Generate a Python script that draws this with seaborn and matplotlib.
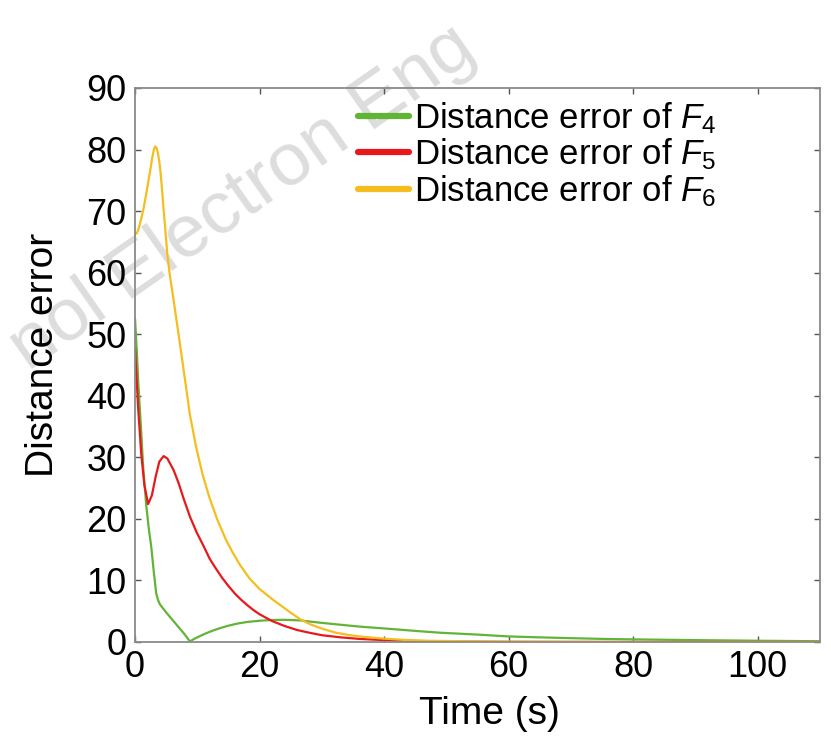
import matplotlib
matplotlib.use("Agg")
import matplotlib.pyplot as plt
import seaborn as sns
import pandas as pd

# ---- data ----
t_f4 = [0, 0.3, 0.5, 1.0, 1.3, 1.8, 2.2, 2.6, 3.0, 3.4, 3.7, 4.0, 5.0, 6.0, 7.0, 8.0, 8.8,
        9.5, 10.5, 11.5, 12.5, 13.5, 15, 16.5, 18, 20, 22, 24, 26.5, 30, 33, 36, 40, 45, 49,
        55, 60, 65, 70, 75, 80, 85, 90, 95, 100, 105, 110]
e_f4 = [52.5, 47, 42.5, 34, 28.5, 22.2, 18.5, 15.5, 11.5, 7.9, 6.8, 6.1, 4.8, 3.6, 2.4, 1.2, 0.1,
        0.5, 1.0, 1.45, 1.85, 2.2, 2.65, 3.0, 3.25, 3.45, 3.57, 3.6, 3.5, 3.1, 2.8, 2.5, 2.2, 1.8, 1.5,
        1.2, 0.9, 0.75, 0.62, 0.5, 0.42, 0.36, 0.3, 0.25, 0.2, 0.16, 0.12]

t_f5 = [0, 0.5, 1.0, 1.5, 2.1, 2.7, 3.3, 3.9, 4.6, 5.2, 6.2, 7.0, 7.8, 8.8, 9.9, 11, 12, 13,
        14, 15, 16, 17, 18, 19, 20, 22, 24, 26, 28, 30, 33, 36, 40, 45, 50, 60, 80, 110]
e_f5 = [47.7, 38, 30.5, 25.5, 22.4, 23.8, 26.8, 29.3, 30.2, 29.8, 27.9, 25.8, 23.3, 20.4, 17.8, 15.6, 13.5, 11.9,
        10.4, 9.1, 7.9, 6.9, 6.0, 5.2, 4.5, 3.4, 2.6, 1.95, 1.5, 1.1, 0.75, 0.5, 0.3, 0.15, 0.08, 0.02, 0.0, 0.0]

t_f6 = [0, 0.3, 0.6, 1.0, 1.35, 1.8, 2.2, 2.5, 2.8, 3.0, 3.2, 3.45, 3.7, 3.9, 4.1, 4.35, 4.6, 4.9,
        5.2, 5.6, 6.2, 7.3, 7.9, 8.8, 9.8, 10.8, 11.9, 13.2, 14.6, 15.7, 16.8, 18.4, 20, 22.1, 24.8,
        26.5, 28.3, 30.2, 32.3, 34.5, 37, 39.9, 43, 47, 55, 70, 110]
e_f6 = [66.3, 66.4, 67.2, 68.8, 70.3, 72.8, 75.2, 77, 78.9, 79.9, 80.5, 80.3, 79.3, 78, 76.3, 73.3, 70.1, 66.5,
        62.8, 59.5, 55.5, 47.8, 43.5, 37.0, 31.7, 27.4, 23.6, 19.9, 16.6, 14.5, 12.6, 10.3, 8.6, 6.9, 4.9,
        3.7, 2.8, 2.1, 1.5, 1.1, 0.8, 0.55, 0.35, 0.2, 0.08, 0.02, 0.0]

labels = [r"Distance error of $F_4$", r"Distance error of $F_5$", r"Distance error of $F_6$"]
colors = ["#62b436", "#e8191c", "#f5be1e"]
x_ticks = [0, 20, 40, 60, 80, 100]
y_ticks = [0, 10, 20, 30, 40, 50, 60, 70, 80, 90]

# ---- style ----
sns.set_theme(style="white")
plt.rcParams["font.family"] = ["Liberation Sans", "DejaVu Sans"]
plt.rcParams["mathtext.fontset"] = "custom"
plt.rcParams["mathtext.rm"] = "Liberation Sans"
plt.rcParams["mathtext.it"] = "Liberation Sans:italic"

fig = plt.figure(figsize=(8.31, 7.47), dpi=100)
fig.patch.set_facecolor("white")

# watermark (behind everything)
fig.text(468 / 831, 1 - 40 / 747, "nol Electron Eng",
         fontsize=54, color="#dddddd", rotation=35, rotation_mode="anchor",
         ha="right", va="center", zorder=-10)

ax = fig.add_axes([0.1625, 0.1406, 0.8243, 0.7416])
ax.set_facecolor("none")

series = [(t_f4, e_f4), (t_f5, e_f5), (t_f6, e_f6)]
for (tt, ee), lab, col in zip(series, labels, colors):
    df = pd.DataFrame({"t": tt, "e": ee})
    sns.lineplot(data=df, x="t", y="e", ax=ax, color=col, linewidth=1.6, label=lab)

ax.set_xlim(0, 110)
ax.set_ylim(0, 90)
ax.set_xticks(x_ticks)
ax.set_yticks(y_ticks)
ax.tick_params(axis="both", which="both", direction="in", length=4, width=1.0,
               color="#555555", labelsize=26, labelcolor="black", top=True, right=True,
               bottom=True, left=True)
ax.tick_params(axis="x", pad=6)
ax.tick_params(axis="y", pad=6)
for s in ax.spines.values():
    s.set_color("#8a8a8a")
    s.set_linewidth(1.3)
    s.set_visible(True)

ax.set_xlabel("Time (s)", fontsize=28, color="black")
ax.set_ylabel("Distance error", fontsize=28, color="black")
ax.xaxis.set_label_coords(0.518, -0.098)
ax.yaxis.set_label_coords(-0.108, 0.518)

leg = ax.legend(loc="upper left", bbox_to_anchor=(0.326, 0.978), frameon=False,
                fontsize=25, borderpad=0, borderaxespad=0, handlelength=1.45,
                handletextpad=0.15, labelspacing=0.02, labelcolor="black")
for ln in leg.get_lines():
    ln.set_linewidth(4.5)
    ln.set_solid_capstyle("round")

fig.savefig("out.png", dpi=100)
